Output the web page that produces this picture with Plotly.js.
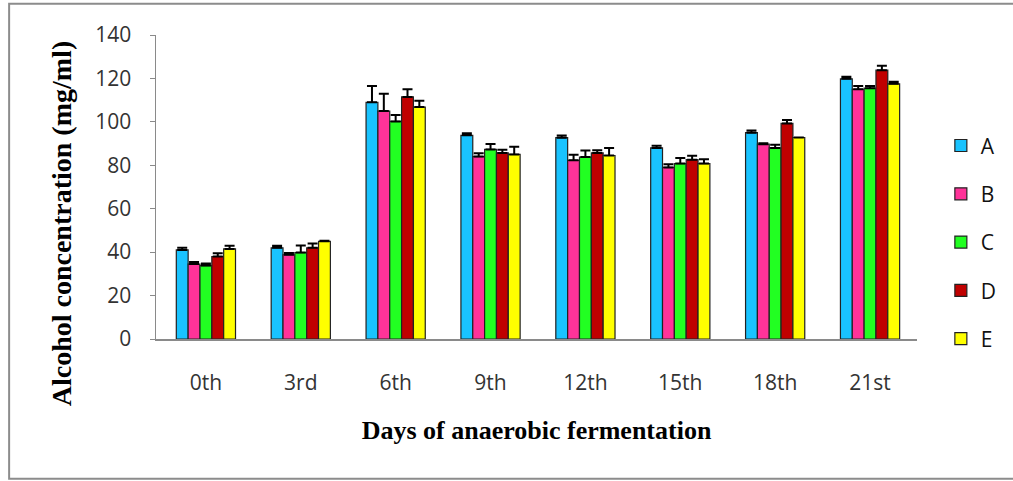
<!DOCTYPE html>
<html>
<head>
<meta charset="utf-8">
<script src="https://cdn.plot.ly/plotly-3.0.1.min.js"></script>
<style>html,body{margin:0;padding:0;background:#fff;}#chart{width:1013px;height:481px;}</style>
</head>
<body>
<div id="chart"></div>
<script>
const categories = ["0th", "3rd", "6th", "9th", "12th", "15th", "18th", "21st"];
const seriesNames = ["A", "B", "C", "D", "E"];
const valuesA = [41, 42, 109, 93.8, 92.7, 88, 95, 119.8];
const valuesB = [34.5, 38.8, 105, 84, 82.3, 79, 89.7, 115];
const valuesC = [33.8, 39.8, 100.2, 87.3, 83.8, 80.8, 88, 115.5];
const valuesD = [38, 42, 111.5, 85.7, 85.7, 82.6, 99.3, 123.8];
const valuesE = [41.5, 45, 106.8, 85, 84.5, 80.8, 92.8, 117.5];
const errorsA = [1, 1, 7.5, 1, 1, 1, 1, 1];
const errorsB = [1, 0.8, 8, 1.5, 2.5, 1.5, 0.5, 1.5];
const errorsC = [1, 3.3, 3, 2.5, 3, 2.5, 1.5, 1];
const errorsD = [1.5, 2, 3.5, 1.5, 1.2, 1.8, 1.5, 2];
const errorsE = [1.5, 0.3, 2.9, 3.5, 3.5, 2, 0, 1];
const colors = ["#19C3FF", "#FF3399", "#22FF22", "#C00000", "#FFFF00"];
const xTitle = "Days of anaerobic fermentation";
const yTitle = "Alcohol concentration (mg/ml)";

const allValues = [valuesA, valuesB, valuesC, valuesD, valuesE];
const allErrors = [errorsA, errorsB, errorsC, errorsD, errorsE];

const traces = seriesNames.map((name, i) => ({
  type: "bar",
  name: name,
  legendgroup: name,
  x: categories.map((c, j) => j),
  y: allValues[i],
  marker: { color: colors[i], line: { color: "#222", width: 1.2 } },
  error_y: {
    type: "data",
    symmetric: false,
    array: allErrors[i],
    arrayminus: allErrors[i].map(() => 0),
    color: "#000",
    thickness: 2,
    width: 5
  }
}));

const titleFont = { family: "'Liberation Serif', 'DejaVu Serif', serif", color: "#000", weight: "bold" };

const layout = {
  width: 1013,
  height: 481,
  margin: { l: 156, r: 95, t: 34.5, b: 142 },
  paper_bgcolor: "#fff",
  plot_bgcolor: "#fff",
  barmode: "group",
  bargap: 0.376,
  bargroupgap: 0,
  font: { family: "'Open Sans', sans-serif", size: 21, color: "#333" },
  xaxis: {
    range: [-0.526, 7.495],
    tickmode: "array",
    tickvals: categories.map((c, j) => j),
    ticktext: categories,
    showgrid: false,
    zeroline: false,
    showline: true,
    linecolor: "#8a8a8a",
    linewidth: 1.5,
    ticks: "",
    ticklabelstandoff: 24,
    tickfont: { size: 21, color: "#333" },
    title: {
      text: xTitle,
      font: Object.assign({ size: 26 }, titleFont),
      standoff: 26
    }
  },
  yaxis: {
    range: [0, 140],
    dtick: 20,
    showgrid: false,
    zeroline: false,
    showline: true,
    linecolor: "#8a8a8a",
    linewidth: 1.5,
    ticks: "outside",
    ticklen: 5,
    tickcolor: "#8a8a8a",
    ticklabelstandoff: 14,
    tickfont: { size: 21, color: "#333" }
  },
  annotations: [{
    text: yTitle,
    xref: "paper",
    yref: "paper",
    x: -0.1247,
    y: 0.381,
    xanchor: "center",
    yanchor: "middle",
    textangle: -90,
    showarrow: false,
    font: Object.assign({ size: 28 }, titleFont)
  }],
  legend: {
    x: 1.03,
    xanchor: "left",
    y: 0.318,
    yanchor: "middle",
    tracegroupgap: 18,
    font: { size: 21, color: "#111" },
    bgcolor: "rgba(0,0,0,0)",
    itemclick: false
  },
  showlegend: true,
  shapes: [{
    type: "rect",
    xref: "paper",
    yref: "paper",
    x0: -0.193,
    x1: 1.2,
    y0: -0.46,
    y1: 1.103,
    line: { color: "#8c8c8c", width: 2 },
    fillcolor: "rgba(0,0,0,0)",
    layer: "below"
  }]
};

Plotly.newPlot("chart", traces, layout, { displayModeBar: false, staticPlot: true });
</script>
</body>
</html>
